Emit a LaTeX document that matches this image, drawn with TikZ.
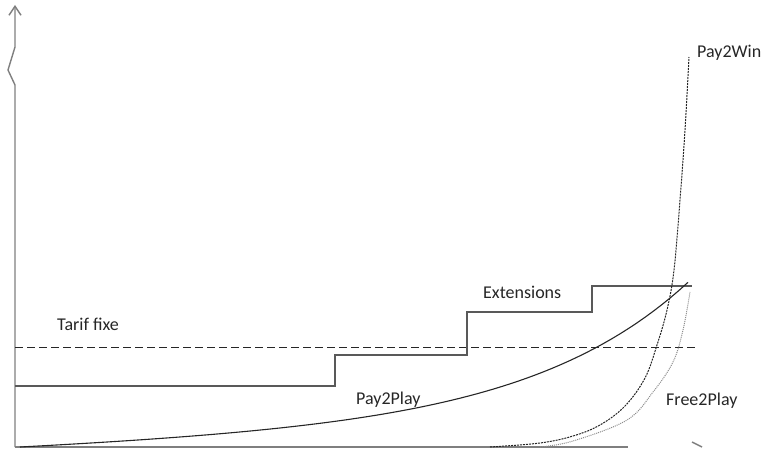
\documentclass[tikz,border=0pt]{standalone}
\usepackage{fontspec}
\setmainfont{Carlito}
\usepackage{xcolor}
\definecolor{axiscolor}{HTML}{7f7f7f}
\definecolor{stepcolor}{HTML}{595959}
\definecolor{curvecolor}{HTML}{262626}
\definecolor{dotcolor}{HTML}{8c8c8c}
\definecolor{textcolor}{HTML}{262626}
\usepackage{tikz}
\usetikzlibrary{positioning,arrows.meta}
\tikzset{
    axis/.style={
        draw=axiscolor,
        line width=1.4pt,
    },
    tiers/.style={
        draw=stepcolor,
        line width=1.1pt,
    },
    fixline/.style={
        draw=curvecolor,
        line width=1pt,
        dash pattern=on 8pt off 4pt,
    },
    paycurve/.style={
        draw=curvecolor,
        line width=1.1pt,
    },
    wincurve/.style={
        draw=curvecolor,
        line width=1pt,
        dash pattern=on 2pt off 1pt,
    },
    freecurve/.style={
        draw=dotcolor,
        line width=1pt,
        dash pattern=on 1pt off 1pt,
    },
    curvelabel/.style={
        text=textcolor,
        font=\fontsize{18}{22}\selectfont,
        inner sep=0pt,
        anchor=base west,
    },
}

\begin{document}
\begin{tikzpicture}[x=1pt,y=-1pt]
    \useasboundingbox (0,0) rectangle (765,449);
    % axes
    \coordinate (origin) at (15,447);
    \coordinate (ytop) at (15,5);
    \coordinate (xend) at (628,447);
    \draw[axis,-{Straight Barb[length=9pt,width=12pt]}]
        (origin) -- (15,85) -- (8,70) -- (15,47) -- (ytop);
    \draw[axis] (origin) -- (xend);
    \draw[axis] (692,442) -- (702,447);
    % tarif fixe
    \draw[fixline] (15,347) -- (695,347);
    % extensions
    \draw[tiers] (15,386) -- (335,386) -- (335,355) -- (467,355)
        -- (467,312) -- (592,312) -- (592,286) -- (692,286);
    % pay2play
    \draw[paycurve] plot[domain=20:688,samples=80]
        (\x,{447-0.04*(\x-20)-2.08*(exp(0.0063*(\x-20))-1)});
    % pay2win
    \draw[wincurve] plot[smooth,tension=0.6] coordinates {
        (490,447) (540,443) (573,436) (600,425) (625,406) (645,378)
        (657,345) (667,310) (674,270) (680,200) (685,130) (689,57)};
    % free2play
    \draw[freecurve] plot[smooth,tension=0.6] coordinates {
        (540,447) (573,441) (627,420) (653,392) (673,362) (683,330)
        (690,292)};
    % labels
    \node[curvelabel] (p2w) at (697,58) {Pay2Win};
    \node[curvelabel] (ext) at (483,298) {Extensions};
    \node[curvelabel] (fixe) at (57,330) {Tarif fixe};
    \node[curvelabel] (p2p) at (356,404) {Pay2Play};
    \node[curvelabel] (f2p) at (666,405) {Free2Play};
\end{tikzpicture}
\end{document}
